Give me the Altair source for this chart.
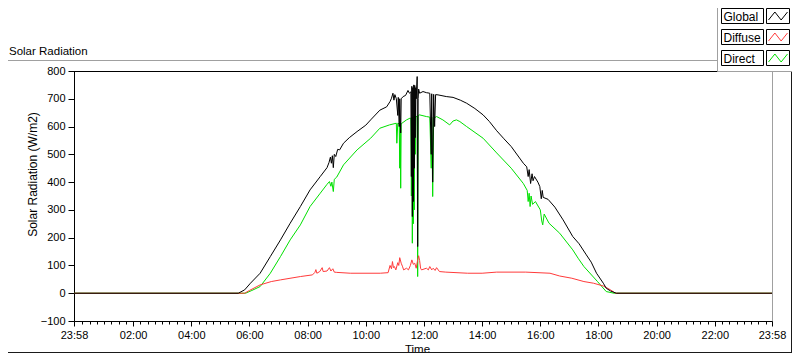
import altair as alt
import pandas as pd

SERIES = ["Global", "Diffuse", "Direct"]
COLORS = ["#000000", "#ff3a3a", "#00e000"]

global_times = ["23:58", "05:37", "05:50", "06:02", "06:22", "06:43", "07:04", "07:24", "07:45", "08:05",
                "08:26", "08:40", "08:44", "08:47", "08:49", "08:51", "08:53", "08:55", "08:58", "09:02",
                "09:06", "09:14", "09:26", "09:42", "10:00", "10:10", "10:29", "10:43", "10:50", "10:53",
                "10:56", "10:58", "11:00", "11:03", "11:06", "11:07", "11:09", "11:10", "11:12", "11:13",
                "11:17", "11:22", "11:27", "11:30", "11:33", "11:34", "11:35", "11:36", "11:37", "11:38",
                "11:39", "11:40", "11:41", "11:42", "11:43", "11:44", "11:46", "11:47", "11:48", "11:49",
                "11:51", "11:58", "12:05", "12:12", "12:15", "12:16", "12:18", "12:20", "12:22", "12:24",
                "12:29", "12:46", "13:00", "13:15", "13:28", "13:45", "14:02", "14:15", "14:30", "14:45",
                "15:00", "15:25", "15:32", "15:35", "15:37", "15:40", "15:43", "15:45", "15:48", "15:55",
                "15:59", "16:02", "16:04", "16:06", "16:16", "16:30", "16:47", "17:07", "17:20", "17:35",
                "17:45", "17:56", "18:10", "18:16", "18:25", "18:37", "23:58"]
global_values = [0, 0, 12, 36, 72, 132, 192, 252, 312, 372,
                 420, 452, 470, 490, 468, 495, 452, 500, 492, 518,
                 516, 540, 560, 582, 605, 624, 659, 671, 690, 702,
                 720, 695, 715, 700, 640, 705, 600, 700, 577, 700,
                 708, 712, 730, 720, 725, 420, 745, 276, 740, 330,
                 750, 450, 748, 560, 740, 700, 780, 168, 700, 735,
                 720, 726, 722, 720, 500, 718, 400, 716, 600, 715,
                 714, 708, 705, 695, 684, 665, 642, 618, 585, 556,
                 528, 468, 455, 420, 445, 395, 430, 405, 420, 400,
                 384, 340, 370, 345, 338, 310, 264, 204, 178, 138,
                 112, 72, 36, 18, 8, 0, 0]

direct_times = ["23:58", "05:52", "06:05", "06:22", "06:43", "07:04", "07:24", "07:45", "08:05", "08:26",
                "08:40", "08:45", "08:48", "08:50", "08:53", "08:55", "09:00", "09:14", "09:42", "10:10",
                "10:29", "10:49", "11:03", "11:04", "11:06", "11:09", "11:10", "11:11", "11:12", "11:13",
                "11:24", "11:31", "11:33", "11:34", "11:35", "11:36", "11:37", "11:38", "11:39", "11:40",
                "11:41", "11:42", "11:43", "11:46", "11:47", "11:48", "11:51", "12:05", "12:12", "12:15",
                "12:16", "12:18", "12:20", "12:26", "12:39", "12:53", "13:00", "13:07", "13:14", "13:28",
                "14:02", "14:30", "15:00", "15:25", "15:33", "15:35", "15:37", "15:39", "15:41", "15:44",
                "15:50", "16:00", "16:03", "16:05", "16:08", "16:18", "16:40", "17:07", "17:18", "17:30",
                "17:58", "18:16", "18:32", "23:58"]
direct_values = [0, 0, 10, 24, 72, 132, 192, 246, 312, 360,
                 392, 402, 385, 400, 366, 410, 418, 462, 516, 558,
                 594, 606, 612, 540, 612, 610, 450, 612, 378, 610,
                 624, 630, 630, 350, 632, 180, 634, 250, 636, 300,
                 636, 500, 636, 636, 60, 640, 642, 636, 634, 450,
                 634, 348, 630, 636, 624, 606, 620, 624, 618, 600,
                 558, 505, 450, 395, 370, 330, 360, 312, 350, 320,
                 330, 300, 260, 246, 285, 252, 216, 156, 126, 96,
                 42, 6, 0, 0]

diffuse_times = ["23:58", "05:50", "06:00", "06:22", "06:45", "07:04", "07:45", "08:10", "08:15", "08:17",
                 "08:19", "08:25", "08:30", "08:32", "08:40", "08:45", "08:48", "08:52", "08:55", "09:00",
                 "09:28", "10:30", "10:46", "10:50", "10:53", "10:55", "10:57", "10:59", "11:02", "11:06",
                 "11:08", "11:10", "11:13", "11:16", "11:18", "11:24", "11:28", "11:32", "11:35", "11:38",
                 "11:41", "11:44", "11:47", "11:49", "11:51", "11:53", "11:55", "12:05", "12:09", "12:12",
                 "12:16", "12:19", "12:23", "12:26", "12:32", "12:45", "13:30", "14:00", "14:30", "15:30",
                 "16:20", "16:40", "17:05", "17:30", "17:50", "18:10", "18:25", "18:35", "23:58"]
diffuse_values = [0, 0, 10, 30, 42, 48, 60, 66, 75, 85,
                  72, 78, 92, 78, 80, 92, 80, 88, 76, 75,
                  72, 72, 74, 100, 88, 114, 92, 96, 84, 110,
                  100, 128, 108, 95, 84, 90, 84, 100, 120, 104,
                  108, 90, 120, 135, 118, 90, 84, 90, 84, 96,
                  84, 90, 82, 92, 78, 76, 72, 72, 76, 76,
                  72, 62, 54, 42, 36, 26, 12, 0, 0]

x_tick_labels = ["23:58", "02:00", "04:00", "06:00", "08:00", "10:00", "12:00",
                 "14:00", "16:00", "18:00", "20:00", "22:00", "23:58"]
x_tick_minutes = [-2, 120, 240, 360, 480, 600, 720, 840, 960, 1080, 1200, 1320, 1438]
y_ticks = [-100, 0, 100, 200, 300, 400, 500, 600, 700, 800]

FONT = "Liberation Sans"


def to_minutes(times):
    out = []
    for i, s in enumerate(times):
        h, m = s.split(":")
        v = int(h) * 60 + int(m)
        if i == 0 and v > 720:
            v -= 1440
        out.append(v)
    return out


frames = {
    "Global": pd.DataFrame({"t": to_minutes(global_times), "v": global_values}),
    "Diffuse": pd.DataFrame({"t": to_minutes(diffuse_times), "v": diffuse_values}),
    "Direct": pd.DataFrame({"t": to_minutes(direct_times), "v": direct_values}),
}
color_of = dict(zip(SERIES, COLORS))

W, H = 698, 250

x_scale = alt.Scale(domain=[x_tick_minutes[0], x_tick_minutes[-1]], nice=False, zero=False)
y_scale = alt.Scale(domain=[y_ticks[0], y_ticks[-1]], nice=False, zero=False)

major_list = ",".join(str(m) for m in x_tick_minutes)
label_list = ",".join("'" + s + "'" for s in x_tick_labels)
is_major = f"indexof([{major_list}], datum.value) >= 0"
label_expr = f"{is_major} ? [{label_list}][indexof([{major_list}], datum.value)] : ''"
minor = [m for m in range(15, 1440, 15) if m not in x_tick_minutes]
tick_values = sorted(x_tick_minutes + minor)

x_axis = alt.Axis(
    values=tick_values, labelExpr=label_expr,
    tickSize={"condition": {"test": is_major, "value": 5}, "value": 3},
    grid=False, labelFlush=False, labelOverlap=False, labelPadding=3,
    labelFont=FONT, labelFontSize=11, labelColor="black",
    domainColor="black", tickColor="black", domainWidth=1, tickWidth=1,
    title="Time", titleFont=FONT, titleFontSize=11.5, titleFontWeight="normal", titleColor="black",
    titleX=343, titleY=31, titleAlign="center", titleBaseline="alphabetic",
)
y_axis = alt.Axis(
    values=y_ticks, grid=False, tickSize=6, labelPadding=3,
    labelFont=FONT, labelFontSize=11, labelColor="black",
    domainColor="black", tickColor="black", domainWidth=1, tickWidth=1,
    title="Solar Radiation (W/m2)", titleFont=FONT, titleFontSize=12, titleFontWeight="normal",
    titleColor="black", titleX=-38, titleY=103, titleAngle=-90, titleAlign="center",
    titleBaseline="alphabetic",
)


def line_layer(name):
    return alt.Chart(frames[name]).mark_line(color=color_of[name], strokeWidth=1).encode(
        x=alt.X("t:Q", scale=x_scale, axis=x_axis),
        y=alt.Y("v:Q", scale=y_scale, axis=y_axis),
    )


one = alt.Data(values=[{"k": 0}])


def hrule(x1, x2, y, color):
    return alt.Chart(one).mark_rule(color=color, strokeWidth=1).encode(
        x=alt.value(x1), x2=alt.value(x2), y=alt.value(y))


def vrule(x, y1, y2, color):
    return alt.Chart(one).mark_rule(color=color, strokeWidth=1).encode(
        x=alt.value(x), y=alt.value(y1), y2=alt.value(y2))


def box(x1, x2, y1, y2, stroke):
    return alt.Chart(one).mark_rect(fill="white", stroke=stroke, strokeWidth=1).encode(
        x=alt.value(x1), x2=alt.value(x2), y=alt.value(y1), y2=alt.value(y2))


ZIG = "M -1 0.42 L -0.33 -0.42 L 0.33 0.42 L 1 -0.42"

layers = [
    line_layer("Direct"),
    line_layer("Diffuse"),
    line_layer("Global"),
    hrule(0, W, 0.5, "black"),
    hrule(-66, 643, -10.5, "#a0a0a0"),
    hrule(-66, 718, 281.5, "#1a1a1a"),
    vrule(717.5, 1, 282, "#1a1a1a"),
    alt.Chart(one).mark_text(text="Solar Radiation", align="left", baseline="alphabetic",
                             font=FONT, fontSize=11.5, color="black").encode(
        x=alt.value(-65), y=alt.value(-16)),
    box(643.5, 730, -80, 0.5, "#a0a0a0"),
]

for i, name in enumerate(SERIES):
    y0 = -62.5 + 21 * i
    layers.append(box(647.5, 689.5, y0, y0 + 15, "black"))
    layers.append(box(692.5, 715.5, y0, y0 + 15, "black"))
    layers.append(alt.Chart(one).mark_text(text=name, align="left", baseline="alphabetic",
                                           font=FONT, fontSize=12, color="black").encode(
        x=alt.value(649.5), y=alt.value(y0 + 12)))
    layers.append(alt.Chart(one).mark_point(shape=ZIG, size=361, filled=False, stroke=color_of[name],
                                            strokeWidth=1, opacity=1).encode(
        x=alt.value(704), y=alt.value(y0 + 7.5)))

chart = alt.layer(*layers).properties(
    width=W, height=H,
    autosize=alt.AutoSizeParams(type="none"),
    padding={"left": 66, "top": 63, "right": 20, "bottom": 32},
    background="white",
).configure_view(stroke="#a0a0a0", strokeWidth=1)

chart.save("out.html", embed_options={"renderer": "svg", "actions": False})
